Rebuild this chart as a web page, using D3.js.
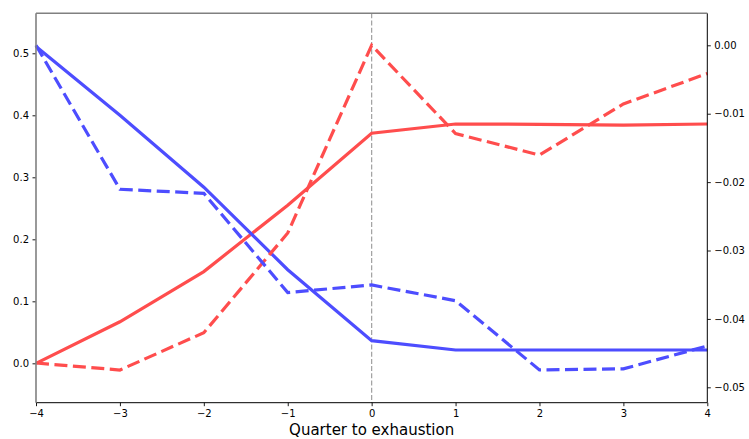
<!DOCTYPE html>
<html>
<head>
<meta charset="utf-8">
<script src="https://cdn.jsdelivr.net/npm/d3@7"></script>
<style>
  html, body { margin: 0; padding: 0; background: #fff; }
  svg { display: block; }
  text { font-family: "DejaVu Sans", sans-serif; }
</style>
</head>
<body>
<script>
// ---- data ----
const quarters = [-4, -3, -2, -1, 0, 1, 2, 3, 4];
// left axis (solid lines)
const redSolid  = [0.000, 0.067, 0.148, 0.255, 0.371, 0.386, 0.3855, 0.384, 0.386];
const blueSolid = [0.511, 0.400, 0.284, 0.151, 0.0365, 0.0215, 0.0215, 0.0215, 0.0215];
// right axis (dashed lines)
const redDashed  = [-0.04645, -0.04747, -0.04202, -0.02744, 0.0000, -0.0129, -0.01604, -0.00858, -0.00412];
const blueDashed = [0.0000, -0.02105, -0.02164, -0.03614, -0.03504, -0.03734, -0.04746, -0.0473, -0.04396];
const xTicks = [-4, -3, -2, -1, 0, 1, 2, 3, 4];
const leftTicks = [0.0, 0.1, 0.2, 0.3, 0.4, 0.5];
const rightTicks = [0.00, -0.01, -0.02, -0.03, -0.04, -0.05];
const xLabel = "Quarter to exhaustion";

// ---- layout ----
const W = 749, H = 439;
const m = { left: 36, right: W - 707.3, top: 13.3, bottom: H - 402.7 };

const svg = d3.select("body").append("svg").attr("width", W).attr("height", H);

const x = d3.scaleLinear().domain([-4, 4]).range([m.left, W - m.right]);
const yL = d3.scaleLinear().domain([-0.0635, 0.5645]).range([H - m.bottom, m.top]);
const yR = d3.scaleLinear().domain([-0.05225, 0.00468]).range([H - m.bottom, m.top]);

const red = "rgb(255,77,77)", blue = "rgb(77,77,255)";

// vertical reference line at 0
svg.append("line")
  .attr("x1", x(0)).attr("x2", x(0))
  .attr("y1", m.top).attr("y2", H - m.bottom)
  .attr("stroke", "#a0a0a0").attr("stroke-width", 1.2)
  .attr("stroke-dasharray", "5,2.2");

const lineL = d3.line().x((d, i) => x(quarters[i])).y(d => yL(d));
const lineR = d3.line().x((d, i) => x(quarters[i])).y(d => yR(d));

const series = [
  { data: redSolid, gen: lineL, color: red, dash: null },
  { data: blueSolid, gen: lineL, color: blue, dash: null },
  { data: redDashed, gen: lineR, color: red, dash: "13,5.5" },
  { data: blueDashed, gen: lineR, color: blue, dash: "13,5.5" }
];
series.forEach(s => {
  svg.append("path")
    .attr("d", s.gen(s.data))
    .attr("fill", "none")
    .attr("stroke", s.color)
    .attr("stroke-width", 3.2)
    .attr("stroke-linejoin", "miter")
    .attr("stroke-dasharray", s.dash);
});

// axes
const fmt1 = d3.format(".1f");
const fmtR = v => (Math.abs(v) < 1e-9 ? "0.00" : d3.format(".2f")(v).replace("-", "\u2212"));
const fmtX = v => String(v).replace("-", "\u2212");

const gx = svg.append("g").attr("transform", `translate(0,${H - m.bottom})`)
  .call(d3.axisBottom(x).tickValues(xTicks).tickFormat(fmtX).tickSize(3.5).tickPadding(3.5));
const gl = svg.append("g").attr("transform", `translate(${m.left},0)`)
  .call(d3.axisLeft(yL).tickValues(leftTicks).tickFormat(fmt1).tickSize(3.5).tickPadding(3.5));
const gr = svg.append("g").attr("transform", `translate(${W - m.right},0)`)
  .call(d3.axisRight(yR).tickValues(rightTicks).tickFormat(fmtR).tickSize(3.5).tickPadding(3.5));

[gx, gl, gr].forEach(g => {
  g.select(".domain").remove();
  g.selectAll("text").attr("font-size", 10).attr("fill", "#000").attr("font-family", "DejaVu Sans, sans-serif");
  g.selectAll("line").attr("stroke", "#000").attr("stroke-width", 0.9);
});

// spines
svg.append("line").attr("x1", m.left).attr("x2", W - m.right)
  .attr("y1", H - m.bottom).attr("y2", H - m.bottom).attr("stroke", "#000").attr("stroke-width", 1);
svg.append("line").attr("x1", W - m.right).attr("x2", W - m.right)
  .attr("y1", m.top).attr("y2", H - m.bottom).attr("stroke", "#000").attr("stroke-width", 1);
svg.append("line").attr("x1", m.left).attr("x2", m.left)
  .attr("y1", m.top).attr("y2", H - m.bottom).attr("stroke", "#808080").attr("stroke-width", 1.6);
svg.append("line").attr("x1", m.left).attr("x2", W - m.right)
  .attr("y1", m.top).attr("y2", m.top).attr("stroke", "#808080").attr("stroke-width", 1.4);

// x label
svg.append("text")
  .attr("x", (m.left + W - m.right) / 2).attr("y", 435)
  .attr("text-anchor", "middle").attr("font-size", 15)
  .attr("fill", "#000")
  .text(xLabel);
</script>
</body>
</html>
